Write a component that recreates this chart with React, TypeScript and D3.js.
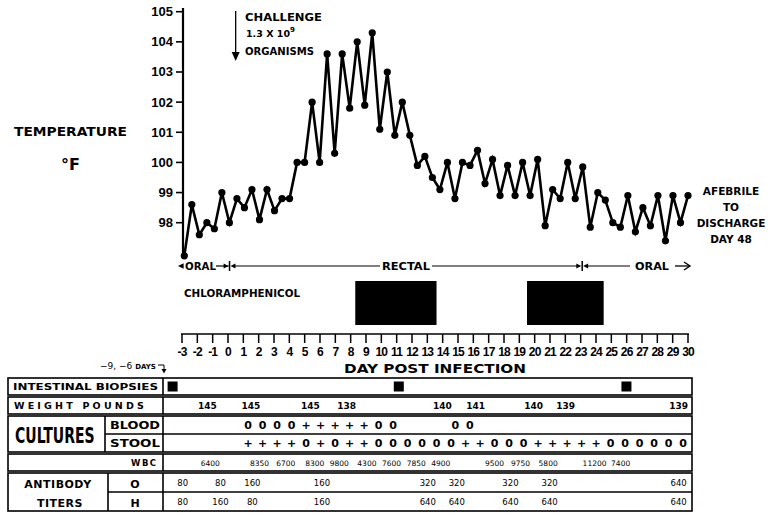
import React from "react";
import * as d3 from "d3";

// ---------- DATA ----------
const tempF = [
  96.9, 98.6, 97.6, 98.0, 97.8, 99.0, 98.0, 98.8, 98.5, 99.1, 98.1, 99.1, 98.4, 98.8, 98.8,
  100.0, 100.0, 102.0, 100.0, 103.6, 100.3, 103.6, 101.8, 104.0, 101.9, 104.3, 101.1, 103.0, 100.9, 102.0,
  100.9, 99.9, 100.2, 99.5, 99.1, 100.0, 98.8, 100.0, 99.9, 100.4, 99.3, 100.1, 98.9, 99.9, 98.9, 100.0, 98.9, 100.1, 97.9,
  99.1, 98.8, 100.0, 98.8, 99.85, 97.85, 99.0, 98.75, 98.0, 97.85, 98.9, 97.7, 98.5, 97.9, 98.9, 97.4, 98.9, 98.0, 98.9,
];
const tempTicks = [98, 99, 100, 101, 102, 103, 104, 105];
const dayTicks = d3.range(-3, 31);
const drugCourses: [number, number][] = [[8.3, 13.6], [19.5, 24.5]];
const routeChangeDays = [0.1, 23.1];
const challengeDay = 0.5;

const biopsyDays = [-5.2, 10.4, 26.1];
const weightDays = [-2.8, 0.2, 4.3, 6.8, 13.4, 15.7, 19.7, 21.9, 29.7];
const weightLbs = [145, 145, 145, 138, 140, 141, 140, 139, 139];
const bloodDays = [0, 1, 2, 3, 4, 5, 6, 7, 8, 9, 10, 14.3, 15.3];
const bloodResults = ["0", "0", "0", "0", "+", "+", "+", "+", "+", "0", "0", "0", "0"];
const stoolDays = d3.range(0, 31);
const stoolResults = [
  "+", "+", "+", "+", "0", "+", "0", "+", "+", "0", "0",
  "0", "0", "0", "0", "+", "+", "0", "0", "0",
  "+", "+", "+", "+", "+", "0", "0", "0", "0", "0", "0",
];
const wbcDays = [-2.6, 0.8, 2.6, 4.6, 6.3, 8.2, 9.9, 11.6, 13.3, 17.0, 18.8, 20.7, 23.9, 25.7];
const wbcCounts = [6400, 8350, 6700, 8300, 9800, 4300, 7600, 7850, 4900, 9500, 9750, 5800, 11200, 7400];
const titerDays = [-4.5, -1.9, 0.3, 5.1, 12.4, 14.4, 18.1, 20.8, 29.7];
const titerO = [80, 80, 160, 160, 320, 320, 320, 320, 640];
const titerH = [80, 160, 80, 160, 640, 640, 640, 640, 640];

// ---------- LAYOUT ----------
const W = 769, H = 531;
const FONT = "'DejaVu Sans', sans-serif";
const NARROW = "'Liberation Sans', Arial, sans-serif";

const xDay = d3.scaleLinear().domain([-3, 30]).range([182, 688]);
const xPt = d3.scaleLinear().domain([0, tempF.length - 1]).range([xDay(-2.85), xDay(30)]);
const yT = d3.scaleLinear().domain([98, 105]).range([222.7, 11.7]);
const xT = d3.scaleLinear().domain([0, 30]).range([248, 683]);

const axisX = 183;
const rulerY = 334;

const tbl = { l: 8, r: 692, sep: 163 };
const rows = {
  bio: [378, 395],
  wt: [397, 414],
  cult: [416, 452],
  wbc: [454, 471],
  ab: [473, 511],
};

function Tri({ x, y, dir, s = 5 }: { x: number; y: number; dir: number; s?: number }) {
  const p = `M${x},${y} L${x - dir * s * 1.4},${y - s * 0.7} L${x - dir * s * 1.4},${y + s * 0.7} Z`;
  return <path d={p} fill="#000" />;
}

export default function App() {
  const line = d3
    .line<number>()
    .x((_, i) => xPt(i))
    .y((d) => yT(d));

  const routeY = 266;
  const rc1 = xDay(routeChangeDays[0]);
  const rc2 = xDay(routeChangeDays[1]);

  const textRow = (r: number[]) => (r[0] + r[1]) / 2 + 3.5;
  const cultMid = (rows.cult[0] + rows.cult[1]) / 2;
  const abMid = (rows.ab[0] + rows.ab[1]) / 2;

  return (
    <svg
      width={W}
      height={H}
      viewBox={`0 0 ${W} ${H}`}
      style={{ position: "absolute", left: 0, top: 0, background: "#fff", display: "block" }}
    >
      <rect x={0} y={0} width={W} height={H} fill="#fff" />

      {/* Temperature title */}
      <text x={14} y={136} fontFamily={FONT} fontWeight="bold" fontSize={13} textLength={113} lengthAdjust="spacingAndGlyphs">
        TEMPERATURE
      </text>
      <text x={61} y={170} fontFamily={FONT} fontWeight="bold" fontSize={16}>
        °F
      </text>

      {/* Y axis */}
      <line x1={axisX} x2={axisX} y1={8} y2={258} stroke="#000" strokeWidth={2.2} />
      {tempTicks.map((t) => (
        <g key={t}>
          <line x1={axisX - 7} x2={axisX} y1={yT(t)} y2={yT(t)} stroke="#000" strokeWidth={1.6} />
          <text
            x={axisX - 10}
            y={yT(t) + 4.5}
            textAnchor="end"
            fontFamily={NARROW}
            fontWeight="bold"
            fontSize={13}
          >
            {t}
          </text>
        </g>
      ))}

      {/* Challenge annotation */}
      <line x1={xDay(challengeDay)} x2={xDay(challengeDay)} y1={11} y2={56} stroke="#000" strokeWidth={1.3} />
      <path
        d={`M${xDay(challengeDay) - 4},${52} L${xDay(challengeDay)},${61} L${xDay(challengeDay) + 4},${52} Z`}
        fill="#000"
      />
      <text x={245} y={21} fontFamily={FONT} fontWeight="bold" fontSize={10.5} textLength={77} lengthAdjust="spacingAndGlyphs">
        CHALLENGE
      </text>
      <text x={246} y={37} fontFamily={FONT} fontWeight="bold" fontSize={9.5}>
        1.3 X 10
        <tspan dy={-5} fontSize={7}>
          9
        </tspan>
      </text>
      <text x={245} y={55} fontFamily={FONT} fontWeight="bold" fontSize={10.5} textLength={69} lengthAdjust="spacingAndGlyphs">
        ORGANISMS
      </text>

      {/* Temperature curve */}
      <path d={line(tempF) || ""} fill="none" stroke="#000" strokeWidth={2.6} strokeLinejoin="miter" />
      {tempF.map((t, i) => (
        <circle key={i} cx={xPt(i)} cy={yT(t)} r={3.6} fill="#000" />
      ))}

      {/* Afebrile note */}
      {["AFEBRILE", "TO", "DISCHARGE", "DAY 48"].map((s, i) => (
        <text
          key={s}
          x={731}
          y={195 + i * 16}
          textAnchor="middle"
          fontFamily={FONT}
          fontWeight="bold"
          fontSize={10.5}
        >
          {s}
        </text>
      ))}

      {/* Route row */}
      <Tri x={178} y={routeY} dir={-1} s={4} />
      <text x={185} y={routeY + 4} fontFamily={FONT} fontWeight="bold" fontSize={10.5} textLength={31} lengthAdjust="spacingAndGlyphs">
        ORAL
      </text>
      <line x1={216} x2={rc1 - 1} y1={routeY} y2={routeY} stroke="#000" strokeWidth={1.2} />
      <Tri x={rc1 - 1} y={routeY} dir={1} s={3.5} />
      <line x1={rc1} x2={rc1} y1={routeY - 5} y2={routeY + 5} stroke="#000" strokeWidth={1.5} />
      <Tri x={rc1 + 1} y={routeY} dir={-1} s={3.5} />
      <line x1={rc1 + 4} x2={380} y1={routeY} y2={routeY} stroke="#000" strokeWidth={1.2} />
      <text x={382} y={routeY + 4} fontFamily={FONT} fontWeight="bold" fontSize={10.5} textLength={48} lengthAdjust="spacingAndGlyphs">
        RECTAL
      </text>
      <line x1={432} x2={rc2 - 3} y1={routeY} y2={routeY} stroke="#000" strokeWidth={1.2} />
      <Tri x={rc2 - 1} y={routeY} dir={1} s={3.5} />
      <line x1={rc2} x2={rc2} y1={routeY - 5} y2={routeY + 5} stroke="#000" strokeWidth={1.5} />
      <Tri x={rc2 + 1} y={routeY} dir={-1} s={3.5} />
      <line x1={rc2 + 4} x2={630} y1={routeY} y2={routeY} stroke="#000" strokeWidth={1.2} />
      <text x={635} y={routeY + 4} fontFamily={FONT} fontWeight="bold" fontSize={10.5} textLength={34} lengthAdjust="spacingAndGlyphs">
        ORAL
      </text>
      <line x1={675} x2={689} y1={routeY} y2={routeY} stroke="#000" strokeWidth={1.3} />
      <path d={`M${684},${routeY - 4} L${690},${routeY} L${684},${routeY + 4}`} fill="none" stroke="#000" strokeWidth={1.4} />

      {/* Chloramphenicol */}
      <text x={184} y={297} fontFamily={FONT} fontWeight="bold" fontSize={11} textLength={116} lengthAdjust="spacingAndGlyphs">
        CHLORAMPHENICOL
      </text>
      {drugCourses.map(([a, b], i) => (
        <rect key={i} x={xDay(a)} y={281} width={xDay(b) - xDay(a)} height={44} fill="#000" />
      ))}

      {/* Day ruler */}
      <line x1={xDay(-3) - 1} x2={xDay(30) + 1} y1={rulerY} y2={rulerY} stroke="#000" strokeWidth={1.6} />
      {dayTicks.map((d) => (
        <g key={d}>
          <line x1={xDay(d)} x2={xDay(d)} y1={rulerY} y2={rulerY + 9} stroke="#000" strokeWidth={1.5} />
          <text
            x={xDay(d)}
            y={rulerY + 22}
            textAnchor="middle"
            fontFamily={NARROW}
            fontWeight="bold"
            fontSize={12}
            letterSpacing={-0.8}
          >
            {d}
          </text>
        </g>
      ))}
      <text
        x={xDay(13.5)}
        y={373}
        textAnchor="middle"
        fontFamily={FONT}
        fontWeight="bold"
        fontSize={12}
        textLength={182}
        lengthAdjust="spacingAndGlyphs"
      >
        DAY  POST  INFECTION
      </text>

      {/* Table header note */}
      <text x={100} y={369} fontFamily={FONT} fontSize={9}>
        −9, −6 <tspan fontSize={7} fontWeight="bold">DAYS</tspan>
      </text>
      <path d="M158,365 L164,365 L164,370" fill="none" stroke="#000" strokeWidth={1} />
      <path d="M161.5,369 L164,373.5 L166.5,369 Z" fill="#000" />

      {/* Table boxes */}
      <g fill="none" stroke="#000" strokeWidth={1.6}>
        {Object.values(rows).map((r, i) => (
          <rect key={i} x={tbl.l} y={r[0]} width={tbl.r - tbl.l} height={r[1] - r[0]} />
        ))}
        <line x1={tbl.sep} x2={tbl.sep} y1={rows.bio[0]} y2={rows.bio[1]} />
        <line x1={tbl.sep} x2={tbl.sep} y1={rows.wt[0]} y2={rows.wt[1]} />
        <line x1={tbl.sep} x2={tbl.sep} y1={rows.cult[0]} y2={rows.cult[1]} />
        <line x1={105} x2={105} y1={rows.cult[0]} y2={rows.cult[1]} />
        <line x1={105} x2={tbl.r} y1={cultMid} y2={cultMid} />
        <line x1={tbl.sep} x2={tbl.sep} y1={rows.wbc[0]} y2={rows.wbc[1]} />
        <line x1={tbl.sep} x2={tbl.sep} y1={rows.ab[0]} y2={rows.ab[1]} />
        <line x1={108} x2={108} y1={rows.ab[0]} y2={rows.ab[1]} />
        <line x1={108} x2={tbl.r} y1={abMid} y2={abMid} />
      </g>

      {/* Table labels */}
      <g fontFamily={FONT} fontWeight="bold" fill="#000">
        <text x={13} y={textRow(rows.bio)} fontSize={9.5} textLength={145} lengthAdjust="spacingAndGlyphs">
          INTESTINAL BIOPSIES
        </text>
        <text x={14} y={textRow(rows.wt)} fontSize={9.5} letterSpacing={3.2}>
          WEIGHT POUNDS
        </text>
        <text
          x={15}
          y={cultMid + 5.5}
          fontSize={14}
          transform={`translate(15,${cultMid}) scale(1,1.55) translate(-15,${-cultMid})`}
        >
          CULTURES
        </text>
        <text x={110} y={(rows.cult[0] + cultMid) / 2 + 4} fontSize={10} textLength={50} lengthAdjust="spacingAndGlyphs">
          BLOOD
        </text>
        <text x={110} y={(cultMid + rows.cult[1]) / 2 + 4} fontSize={10} textLength={50} lengthAdjust="spacingAndGlyphs">
          STOOL
        </text>
        <text x={131} y={textRow(rows.wbc)} fontSize={8.5} letterSpacing={1.5}>
          WBC
        </text>
        <text x={58} y={(rows.ab[0] + abMid) / 2 + 5} fontSize={11} textAnchor="middle" letterSpacing={0.5}>
          ANTIBODY
        </text>
        <text x={60} y={(abMid + rows.ab[1]) / 2 + 5} fontSize={11} textAnchor="middle" letterSpacing={0.5}>
          TITERS
        </text>
        <text x={135} y={(rows.ab[0] + abMid) / 2 + 5} fontSize={11} textAnchor="middle">
          O
        </text>
        <text x={135} y={(abMid + rows.ab[1]) / 2 + 5} fontSize={11} textAnchor="middle">
          H
        </text>
      </g>

      {/* Table data */}
      {biopsyDays.map((d, i) => (
        <rect key={i} x={xT(d) - 5} y={rows.bio[0] + 3.5} width={10} height={10} fill="#000" />
      ))}
      <g fontFamily={FONT} fontSize={9} fontWeight="bold" textAnchor="middle">
        {weightLbs.map((w, i) => (
          <text key={i} x={xT(weightDays[i])} y={textRow(rows.wt)}>
            {w}
          </text>
        ))}
      </g>
      <g fontFamily={FONT} fontSize={11} fontWeight="bold" textAnchor="middle">
        {bloodResults.map((s, i) => (
          <text key={i} x={xT(bloodDays[i])} y={(rows.cult[0] + cultMid) / 2 + 4}>
            {s}
          </text>
        ))}
        {stoolResults.map((s, i) => (
          <text key={i} x={xT(stoolDays[i])} y={(cultMid + rows.cult[1]) / 2 + 4}>
            {s}
          </text>
        ))}
      </g>
      <g fontFamily={FONT} fontSize={7.5} textAnchor="middle">
        {wbcCounts.map((c, i) => (
          <text key={i} x={xT(wbcDays[i])} y={textRow(rows.wbc)}>
            {c}
          </text>
        ))}
      </g>
      <g fontFamily={FONT} fontSize={8.5} textAnchor="middle">
        {titerO.map((v, i) => (
          <text key={i} x={xT(titerDays[i])} y={(rows.ab[0] + abMid) / 2 + 3.5}>
            {v}
          </text>
        ))}
        {titerH.map((v, i) => (
          <text key={i} x={xT(titerDays[i])} y={(abMid + rows.ab[1]) / 2 + 3.5}>
            {v}
          </text>
        ))}
      </g>
    </svg>
  );
}
